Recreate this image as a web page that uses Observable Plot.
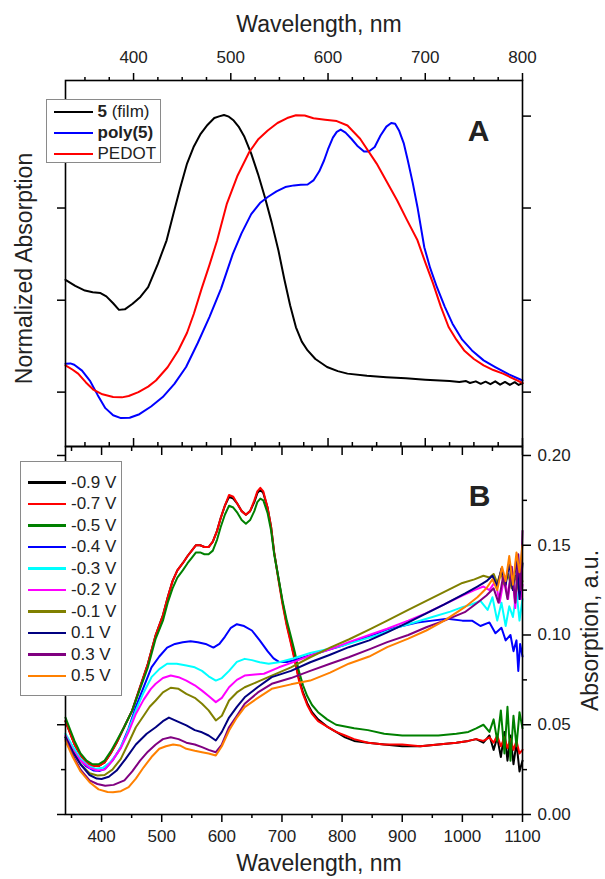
<!DOCTYPE html>
<html>
<head>
<meta charset="utf-8">
<script src="https://cdn.jsdelivr.net/npm/d3@7"></script>
<script src="https://cdn.jsdelivr.net/npm/@observablehq/plot@0.6"></script>
<style>
  html, body { margin: 0; padding: 0; background: #fff; }
  #root { position: relative; width: 605px; height: 879px; overflow: hidden; font-family: "Liberation Sans", Arial, sans-serif; color: #222; }
  #root svg { position: absolute; left: 0; }
  .legend { position: absolute; background: #fff; border: 1px solid #8a8a8a; box-sizing: border-box; z-index: 5; }
  .legend .sw { position: absolute; height: 2.2px; }
  .legend .lb { position: absolute; font-size: 17px; line-height: 20px; height: 20px; white-space: nowrap; color: #222; }
</style>
</head>
<body>
<div id="root"></div>
<script>
// ---------------- Panel A data (normalized absorption) ----------------
const seriesA = ["5 (film)", "poly(5)", "PEDOT"];
const boldA = ["5", "poly(5)", ""];
const colorsA = ["#000000", "#0000ff", "#ff0000"];
const xTicksA = [400, 500, 600, 700, 800];
const xTickLabelsA = ["400", "500", "600", "700", "800"];
const xMinorA = [350, 375, 425, 450, 475, 525, 550, 575, 625, 650, 675, 725, 750, 775];
const yTicksA = [0, 0.333, 0.667, 1.0];

const film = [[330,0.407],[340,0.385],[350,0.368],[358,0.362],[366,0.359],[372,0.347],[379,0.322],[385,0.298],[391,0.300],[399,0.320],[407,0.345],[415,0.38],[425,0.465],[434,0.55],[441,0.646],[448,0.74],[455,0.828],[462,0.89],[469,0.936],[476,0.968],[483,0.993],[488,0.999],[493,1.004],[498,0.998],[503,0.984],[508,0.962],[514,0.925],[521,0.864],[528,0.79],[535,0.707],[542,0.615],[549,0.513],[555,0.41],[561,0.315],[567,0.235],[573,0.183],[579,0.151],[587,0.12],[599,0.091],[610,0.076],[620,0.067],[640,0.059],[660,0.054],[680,0.050],[700,0.045],[715,0.042],[725,0.040],[735,0.037],[742,0.040],[746,0.033],[752,0.039],[757,0.030],[762,0.038],[767,0.029],[772,0.039],[777,0.027],[782,0.037],[787,0.026],[792,0.036],[796,0.026],[800,0.032]];
const poly5 = [[330,0.103],[335,0.104],[339,0.099],[347,0.078],[355,0.042],[363,-0.01],[371,-0.058],[379,-0.084],[387,-0.094],[396,-0.093],[406,-0.08],[418,-0.052],[430,-0.018],[442,0.03],[454,0.091],[466,0.178],[478,0.272],[490,0.375],[502,0.50],[511,0.575],[521,0.645],[530,0.685],[538,0.707],[547,0.727],[556,0.743],[565,0.749],[572,0.751],[579,0.752],[585,0.767],[591,0.8],[596,0.84],[600,0.88],[605,0.922],[609,0.943],[613,0.951],[618,0.94],[624,0.918],[630,0.893],[637,0.872],[642,0.872],[648,0.888],[654,0.93],[660,0.962],[665,0.975],[669,0.972],[673,0.948],[678,0.9],[682,0.84],[687,0.76],[692,0.67],[699,0.525],[705,0.45],[712,0.38],[720,0.31],[728,0.248],[738,0.19],[748,0.151],[760,0.115],[772,0.091],[786,0.064],[800,0.042]];
const pedot = [[330,0.097],[337,0.082],[343,0.067],[351,0.035],[359,0.008],[368,-0.008],[379,-0.018],[388,-0.019],[395,-0.014],[405,0.0],[415,0.02],[423,0.042],[435,0.09],[446,0.151],[455,0.215],[462,0.284],[470,0.375],[478,0.46],[486,0.55],[496,0.683],[507,0.785],[519,0.87],[528,0.915],[538,0.948],[548,0.975],[558,0.993],[567,1.003],[576,1.002],[585,0.992],[597,0.987],[609,0.982],[620,0.966],[633,0.918],[650,0.828],[660,0.765],[671,0.695],[681,0.625],[692,0.55],[700,0.47],[708,0.394],[716,0.31],[724,0.236],[732,0.19],[740,0.151],[750,0.12],[760,0.097],[770,0.08],[780,0.067],[790,0.05],[800,0.033]];
const dataA = [film, poly5, pedot];

// ---------------- Panel B data (absorption, a.u.) ----------------
const seriesB = ["-0.9 V", "-0.7 V", "-0.5 V", "-0.4 V", "-0.3 V", "-0.2 V", "-0.1 V", "0.1 V", "0.3 V", "0.5 V"];
const colorsB = ["#000000", "#ff0000", "#008000", "#0000ff", "#00ffff", "#ff00ff", "#808000", "#000080", "#800080", "#ff8000"];
const xTicksB = [400, 500, 600, 700, 800, 900, 1000, 1100];
const xTickLabelsB = ["400", "500", "600", "700", "800", "900", "1000", "1100"];
const xMinorB = [350, 450, 550, 650, 750, 850, 950, 1050];
const yTicksB = [0, 0.05, 0.10, 0.15, 0.20];
const yTickLabelsB = ["0.00", "0.05", "0.10", "0.15", "0.20"];
const yMinorB = [0.025, 0.075, 0.125, 0.175];

const wlLow = [340,348,355,365,375,385,395,405,415,425,438,451,464,477,490,502,510,518,526,535,543,550,557,564,571,578,585,592,598,605,612,619,626,633,640,647,654,659,664,669,676,682,687,694,701,708,715,721,728,735,742,750,760,775,790,805,820,843,870,900,930,960,990,1010,1023,1035,1045,1052,1058,1064,1070,1075,1080,1085,1090,1095,1100];
const absM09 = [0.052,0.045,0.039,0.033,0.029,0.027,0.027,0.029,0.034,0.040,0.049,0.058,0.071,0.084,0.100,0.111,0.121,0.130,0.136,0.140,0.144,0.147,0.150,0.150,0.149,0.149,0.152,0.158,0.165,0.172,0.177,0.176,0.173,0.169,0.167,0.169,0.174,0.179,0.181,0.179,0.171,0.160,0.146,0.132,0.118,0.106,0.096,0.087,0.076,0.068,0.062,0.057,0.053,0.049,0.046,0.043,0.041,0.040,0.039,0.038,0.038,0.039,0.040,0.041,0.042,0.040,0.044,0.036,0.043,0.032,0.046,0.030,0.044,0.028,0.040,0.024,0.030];
const absM07 = [0.052,0.045,0.039,0.033,0.029,0.027,0.027,0.029,0.034,0.040,0.049,0.058,0.071,0.084,0.100,0.111,0.121,0.130,0.136,0.140,0.144,0.147,0.150,0.150,0.149,0.149,0.152,0.158,0.165,0.172,0.178,0.177,0.173,0.169,0.167,0.169,0.175,0.180,0.182,0.180,0.171,0.160,0.146,0.131,0.117,0.105,0.095,0.086,0.075,0.067,0.061,0.056,0.052,0.049,0.046,0.044,0.042,0.040,0.039,0.039,0.038,0.039,0.040,0.041,0.042,0.041,0.043,0.040,0.044,0.038,0.043,0.037,0.042,0.036,0.041,0.034,0.036];
const absM05 = [0.054,0.047,0.041,0.034,0.030,0.028,0.028,0.030,0.035,0.041,0.049,0.058,0.070,0.082,0.098,0.108,0.118,0.126,0.132,0.136,0.140,0.143,0.146,0.146,0.145,0.145,0.147,0.153,0.160,0.167,0.172,0.171,0.168,0.164,0.162,0.164,0.169,0.174,0.176,0.175,0.168,0.158,0.145,0.132,0.119,0.108,0.099,0.091,0.080,0.072,0.066,0.061,0.057,0.053,0.050,0.049,0.048,0.047,0.045,0.044,0.044,0.044,0.045,0.046,0.048,0.050,0.046,0.053,0.041,0.058,0.034,0.060,0.030,0.055,0.038,0.057,0.048];

const m04 = [[340,0.043],[350,0.037],[361,0.032],[374,0.027],[387,0.0245],[397,0.0243],[406,0.0255],[418,0.030],[432,0.0375],[445,0.048],[457,0.060],[470,0.071],[483,0.082],[496,0.088],[509,0.093],[522,0.095],[535,0.096],[548,0.0965],[560,0.096],[573,0.095],[586,0.093],[596,0.095],[605,0.099],[615,0.104],[625,0.106],[637,0.105],[650,0.1025],[663,0.097],[676,0.091],[686,0.087],[695,0.085],[708,0.085],[721,0.086],[740,0.088],[760,0.090],[780,0.092],[800,0.094],[825,0.097],[850,0.100],[875,0.103],[900,0.105],[925,0.107],[950,0.108],[975,0.109],[1000,0.108],[1016,0.108],[1030,0.105],[1045,0.107],[1055,0.101],[1065,0.104],[1072,0.097],[1080,0.100],[1085,0.091],[1090,0.097],[1093,0.080],[1096,0.095],[1100,0.088]];
const m03 = [[340,0.045],[352,0.038],[365,0.031],[378,0.027],[390,0.0255],[402,0.026],[414,0.029],[426,0.034],[440,0.043],[457,0.058],[470,0.068],[483,0.0765],[496,0.081],[509,0.084],[525,0.084],[541,0.083],[555,0.082],[567,0.080],[578,0.077],[590,0.0746],[600,0.076],[612,0.080],[625,0.085],[638,0.0867],[650,0.086],[663,0.0848],[678,0.084],[695,0.0848],[720,0.087],[747,0.090],[775,0.092],[800,0.094],[830,0.097],[860,0.100],[890,0.104],[920,0.107],[950,0.110],[980,0.113],[1000,0.1155],[1015,0.117],[1030,0.119],[1042,0.114],[1050,0.121],[1058,0.108],[1065,0.118],[1072,0.105],[1078,0.116],[1084,0.110],[1090,0.124],[1095,0.108],[1100,0.120]];
const m02 = [[340,0.044],[352,0.036],[365,0.030],[380,0.026],[393,0.0245],[405,0.025],[418,0.030],[432,0.037],[445,0.046],[457,0.056],[470,0.064],[482,0.070],[490,0.0728],[502,0.076],[515,0.0774],[528,0.0765],[541,0.0746],[555,0.072],[567,0.069],[578,0.066],[590,0.0626],[600,0.065],[612,0.0709],[625,0.075],[638,0.0774],[655,0.078],[670,0.0784],[695,0.082],[720,0.085],[747,0.0886],[780,0.092],[811,0.096],[845,0.100],[875,0.1035],[910,0.108],[939,0.112],[970,0.117],[1000,0.122],[1020,0.125],[1035,0.127],[1045,0.125],[1055,0.130],[1062,0.118],[1070,0.133],[1076,0.120],[1082,0.138],[1088,0.115],[1093,0.140],[1097,0.120],[1100,0.128]];
const m01 = [[340,0.043],[352,0.035],[365,0.028],[380,0.023],[393,0.0217],[405,0.022],[418,0.025],[432,0.031],[445,0.040],[457,0.0486],[470,0.055],[480,0.060],[490,0.0635],[502,0.068],[515,0.0706],[528,0.070],[541,0.0672],[555,0.065],[567,0.0617],[578,0.058],[590,0.0524],[600,0.055],[612,0.0635],[625,0.068],[638,0.0709],[660,0.074],[683,0.0774],[715,0.082],[747,0.0876],[780,0.093],[811,0.0975],[845,0.103],[875,0.108],[910,0.114],[940,0.119],[970,0.124],[1000,0.129],[1020,0.131],[1035,0.133],[1045,0.132],[1052,0.134],[1058,0.129],[1064,0.135],[1070,0.128],[1076,0.134],[1082,0.126],[1088,0.133],[1094,0.124],[1100,0.130]];
const p01 = [[340,0.043],[352,0.035],[365,0.028],[380,0.022],[392,0.020],[400,0.0198],[412,0.021],[425,0.0245],[440,0.031],[457,0.039],[475,0.045],[490,0.0486],[502,0.052],[512,0.054],[525,0.052],[541,0.0496],[555,0.047],[567,0.0458],[578,0.044],[590,0.0412],[600,0.046],[612,0.054],[625,0.060],[638,0.0653],[660,0.071],[683,0.0765],[715,0.080],[747,0.0848],[780,0.089],[811,0.0932],[845,0.097],[875,0.1015],[910,0.107],[940,0.112],[970,0.117],[1004,0.123],[1025,0.127],[1040,0.130],[1050,0.133],[1058,0.127],[1065,0.137],[1072,0.128],[1078,0.140],[1084,0.125],[1090,0.143],[1095,0.120],[1100,0.140]];
const p03 = [[340,0.042],[352,0.033],[365,0.025],[380,0.019],[393,0.017],[406,0.016],[420,0.0165],[438,0.019],[451,0.024],[464,0.030],[477,0.035],[490,0.039],[502,0.042],[515,0.043],[528,0.042],[541,0.040],[555,0.039],[567,0.0375],[578,0.036],[590,0.0347],[600,0.039],[612,0.0486],[625,0.055],[638,0.0617],[660,0.068],[683,0.0728],[715,0.076],[747,0.080],[780,0.084],[811,0.0876],[845,0.092],[875,0.096],[910,0.100],[940,0.1043],[970,0.108],[1004,0.1127],[1025,0.118],[1040,0.122],[1052,0.126],[1060,0.118],[1068,0.133],[1075,0.120],[1082,0.138],[1088,0.118],[1093,0.145],[1097,0.125],[1100,0.158]];
const p05 = [[340,0.041],[352,0.032],[365,0.024],[380,0.018],[395,0.014],[410,0.0125],[419,0.0124],[432,0.013],[445,0.0152],[457,0.020],[470,0.0263],[483,0.032],[496,0.0366],[507,0.038],[519,0.039],[530,0.0385],[541,0.0366],[555,0.0355],[567,0.0347],[578,0.034],[590,0.0329],[600,0.038],[612,0.0468],[625,0.054],[638,0.0598],[660,0.065],[683,0.070],[715,0.0725],[747,0.0746],[780,0.079],[811,0.084],[845,0.088],[875,0.0932],[910,0.098],[940,0.1025],[970,0.108],[1004,0.1155],[1025,0.121],[1040,0.126],[1050,0.131],[1058,0.125],[1066,0.138],[1072,0.130],[1078,0.144],[1084,0.128],[1090,0.146],[1095,0.135],[1100,0.150]];

const zip = (xs, ys) => xs.map((x, i) => [x, ys[i]]);
const dataB = [zip(wlLow, absM09), zip(wlLow, absM07), zip(wlLow, absM05), m04, m03, m02, m01, p01, p03, p05];

// ---------------- drawing ----------------
const FONT = '"Liberation Sans", Arial, sans-serif';
const INK = "#222";
const root = document.getElementById("root");
const lab = (ticks, labels) => d => labels[ticks.indexOf(d)] ?? "";
const blank = () => "";

const figA = Plot.plot({
  width: 605, height: 460,
  marginTop: 80, marginBottom: 14, marginLeft: 65, marginRight: 83,
  style: {background: "transparent", fontFamily: FONT, fontSize: "17px", color: INK, overflow: "visible"},
  x: {domain: [330, 800]},
  y: {domain: [-0.197, 1.129]},
  marks: [
    ...dataA.map((d, i) => Plot.line(d, {x: p => p[0], y: p => p[1], stroke: colorsA[i], strokeWidth: 2, curve: "linear"})),
    Plot.frame({stroke: "#000", strokeWidth: 1.6}),
    Plot.axisX({anchor: "top", ticks: xTicksA, tickFormat: lab(xTicksA, xTickLabelsA), tickSize: 8, tickPadding: 10, fontSize: 17, strokeWidth: 1.5, stroke: "#000", label: null}),
    Plot.axisX({anchor: "top", ticks: xMinorA, tickFormat: blank, tickSize: 4, strokeWidth: 1.5, stroke: "#000", label: null}),
    Plot.axisX({anchor: "bottom", ticks: xTicksA, tickFormat: blank, tickSize: -8, strokeWidth: 1.5, stroke: "#000", label: null}),
    Plot.axisX({anchor: "bottom", ticks: xMinorA, tickFormat: blank, tickSize: -4, strokeWidth: 1.5, stroke: "#000", label: null}),
    Plot.axisY({anchor: "left", ticks: yTicksA, tickFormat: blank, tickSize: 8, strokeWidth: 1.5, stroke: "#000", label: null}),
    Plot.axisY({anchor: "right", ticks: yTicksA, tickFormat: blank, tickSize: 8, strokeWidth: 1.5, stroke: "#000", label: null}),
    Plot.text(["Wavelength, nm"], {text: d => d, frameAnchor: "top", textAnchor: "middle", dx: 25, dy: -49, lineAnchor: "bottom", fontSize: 23, fill: INK}),
    Plot.text(["Normalized Absorption"], {text: d => d, frameAnchor: "left", textAnchor: "middle", rotate: -90, dx: -50, dy: 5, lineAnchor: "top", fontSize: 23, fill: INK}),
    Plot.text(["A"], {text: d => d, frameAnchor: "top-right", textAnchor: "middle", dx: -44, dy: 50.5, fontSize: 30, fontWeight: "bold", lineAnchor: "middle", fill: INK})
  ]
});
figA.style.top = "0px";
root.appendChild(figA);

const figB = Plot.plot({
  width: 605, height: 443,
  marginTop: 10, marginBottom: 65, marginLeft: 65, marginRight: 83,
  style: {background: "transparent", fontFamily: FONT, fontSize: "17px", color: INK, overflow: "visible"},
  x: {domain: [340, 1100]},
  y: {domain: [0, 0.205]},
  marks: [
    ...dataB.map((d, i) => Plot.line(d, {x: p => p[0], y: p => p[1], stroke: colorsB[i], strokeWidth: 2, curve: "linear"})),
    Plot.frame({stroke: "#000", strokeWidth: 1.6}),
    Plot.axisX({anchor: "bottom", ticks: xTicksB, tickFormat: lab(xTicksB, xTickLabelsB), tickSize: 8, tickPadding: 7, fontSize: 17, strokeWidth: 1.5, stroke: "#000", label: null}),
    Plot.axisX({anchor: "bottom", ticks: xMinorB, tickFormat: blank, tickSize: 4, strokeWidth: 1.5, stroke: "#000", label: null}),
    Plot.axisX({anchor: "top", ticks: xTicksB, tickFormat: blank, tickSize: -8, strokeWidth: 1.5, stroke: "#000", label: null}),
    Plot.axisX({anchor: "top", ticks: xMinorB, tickFormat: blank, tickSize: -4, strokeWidth: 1.5, stroke: "#000", label: null}),
    Plot.axisY({anchor: "right", ticks: yTicksB, tickFormat: lab(yTicksB, yTickLabelsB), tickSize: 8, tickPadding: 7, fontSize: 17, strokeWidth: 1.5, stroke: "#000", label: null}),
    Plot.axisY({anchor: "right", ticks: yMinorB, tickFormat: blank, tickSize: 4, strokeWidth: 1.5, stroke: "#000", label: null}),
    Plot.axisY({anchor: "left", ticks: yTicksB, tickFormat: blank, tickSize: 8, strokeWidth: 1.5, stroke: "#000", label: null}),
    Plot.axisY({anchor: "left", ticks: yMinorB, tickFormat: blank, tickSize: 4, strokeWidth: 1.5, stroke: "#000", label: null}),
    Plot.text(["Wavelength, nm"], {text: d => d, frameAnchor: "bottom", textAnchor: "middle", dx: 25, dy: 56, lineAnchor: "bottom", fontSize: 23, fill: INK}),
    Plot.text(["Absorption, a.u."], {text: d => d, frameAnchor: "right", textAnchor: "middle", rotate: -90, dx: 75, dy: 0, lineAnchor: "bottom", fontSize: 23, fill: INK}),
    Plot.text(["B"], {text: d => d, frameAnchor: "top-right", textAnchor: "middle", dx: -43, dy: 50, fontSize: 30, fontWeight: "bold", lineAnchor: "middle", fill: INK})
  ]
});
figB.style.top = "436px";
root.appendChild(figB);

// ---------------- legends ----------------
function legend(box, names, colors, bolds, rowTop, rowStep, lineX, lineW, textX) {
  const el = document.createElement("div");
  el.className = "legend";
  Object.assign(el.style, {left: box[0] + "px", top: box[1] + "px", width: box[2] + "px", height: box[3] + "px"});
  names.forEach((name, i) => {
    const cy = rowTop + i * rowStep - box[1];
    const sw = document.createElement("div");
    sw.className = "sw";
    Object.assign(sw.style, {left: (lineX - box[0]) + "px", width: lineW + "px", top: (cy - 1.1) + "px", background: colors[i]});
    el.appendChild(sw);
    const t = document.createElement("div");
    t.className = "lb";
    Object.assign(t.style, {left: (textX - box[0]) + "px", top: (cy - 10) + "px"});
    const b = bolds ? bolds[i] : "";
    if (b && name.startsWith(b)) {
      const s = document.createElement("b");
      s.textContent = b;
      t.appendChild(s);
      t.appendChild(document.createTextNode(name.slice(b.length)));
    } else {
      t.textContent = name;
    }
    el.appendChild(t);
  });
  root.appendChild(el);
}
legend([46, 99, 115, 64], seriesA, colorsA, boldA, 110.7, 21, 53, 39, 96.5);
legend([20, 461, 102, 235], seriesB, colorsB, null, 481.5, 21.5, 27, 38, 70);
</script>
</body>
</html>
